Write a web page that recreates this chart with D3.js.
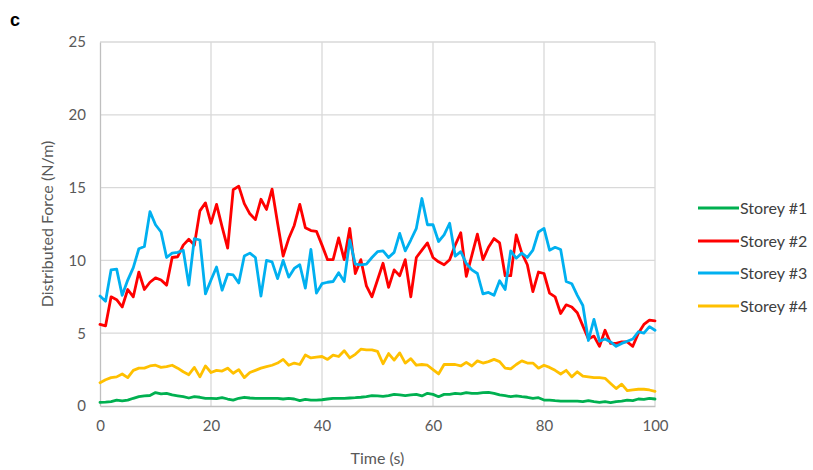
<!DOCTYPE html>
<html>
<head>
<meta charset="utf-8">
<script src="https://cdn.jsdelivr.net/npm/d3@7"></script>
<style>
  html, body { margin: 0; padding: 0; background: #fff; }
  svg { display: block; }
  text { font-family: Lato, "Open Sans", "Liberation Sans", sans-serif; }
</style>
</head>
<body>
<svg id="chart" width="813" height="470"></svg>
<script>
// ---- data ----
const time = d3.range(0, 101); // seconds
const xTicks = [0, 20, 40, 60, 80, 100];
const yTicks = [0, 5, 10, 15, 20, 25];
const seriesNames = ["Storey #1", "Storey #2", "Storey #3", "Storey #4"];
const seriesColors = ["#00b050", "#ff0000", "#00b0f0", "#ffc000"];

const storey1 = [0.25,0.27,0.3,0.4,0.35,0.4,0.53,0.64,0.7,0.72,
  0.92,0.83,0.87,0.76,0.7,0.64,0.55,0.64,0.6,0.53,
  0.53,0.5,0.57,0.48,0.4,0.53,0.6,0.55,0.53,0.53,
  0.53,0.53,0.53,0.48,0.53,0.48,0.37,0.46,0.41,0.41,
  0.43,0.48,0.53,0.53,0.53,0.55,0.57,0.6,0.64,0.71,
  0.7,0.66,0.71,0.8,0.76,0.71,0.76,0.8,0.69,0.87,
  0.8,0.64,0.8,0.8,0.87,0.83,0.92,0.87,0.87,0.92,
  0.94,0.87,0.76,0.71,0.64,0.69,0.64,0.6,0.53,0.57,
  0.41,0.41,0.37,0.34,0.34,0.34,0.34,0.3,0.37,0.3,
  0.25,0.3,0.23,0.3,0.34,0.41,0.37,0.48,0.46,0.53,
  0.48];

const storey2 = [5.6,5.5,7.5,7.3,6.8,8.0,7.5,9.2,8.0,8.5,
  8.8,8.65,8.3,10.2,10.25,11.05,11.45,11.05,13.4,13.95,
  12.55,13.85,12.3,10.85,14.85,15.1,13.9,13.2,12.8,14.2,
  13.5,14.9,12.55,10.3,11.5,12.4,13.85,12.25,12.05,12.0,
  11.05,10.05,10.05,11.55,10.05,12.2,9.1,10.05,8.25,7.5,
  8.65,9.8,8.15,9.35,8.95,10.05,7.5,10.2,10.7,11.2,
  10.2,9.9,9.7,10.05,11.05,11.9,8.9,10.35,11.8,10.05,
  10.9,11.5,11.2,8.95,8.95,11.75,10.5,9.7,7.85,9.2,
  9.1,7.75,7.5,6.35,6.95,6.8,6.4,5.5,4.6,4.8,
  4.1,5.2,4.3,4.3,4.4,4.4,4.1,5.0,5.6,5.9,
  5.85];

const storey3 = [7.55,7.2,9.35,9.4,7.6,8.65,9.5,10.8,10.95,13.35,
  12.45,11.95,10.2,10.5,10.55,10.7,8.3,11.5,11.4,7.7,
  8.65,9.55,7.95,9.05,9.0,8.45,10.3,10.5,10.2,7.55,
  10.0,9.9,8.75,10.0,8.85,9.45,9.7,8.1,10.75,7.75,
  8.4,8.5,8.55,9.15,8.55,11.4,9.75,9.7,9.75,10.2,
  10.6,10.65,10.2,10.55,11.85,10.65,11.4,12.2,14.25,12.45,
  12.45,11.3,11.75,12.55,10.3,10.6,9.8,9.35,9.1,7.7,
  7.8,7.6,8.6,8.0,10.65,10.15,10.5,10.2,10.7,11.95,
  12.2,10.7,10.9,10.75,8.55,8.4,7.6,6.9,4.5,5.95,
  4.45,4.6,4.4,4.1,4.3,4.45,4.6,5.1,5.0,5.45,
  5.2];

const storey4 = [1.6,1.8,1.95,2.0,2.2,1.95,2.45,2.6,2.6,2.75,
  2.8,2.65,2.7,2.8,2.6,2.35,2.15,2.65,2.0,2.75,
  2.3,2.45,2.4,2.6,2.25,2.5,1.95,2.3,2.45,2.6,
  2.7,2.8,2.95,3.2,2.8,2.95,2.85,3.5,3.3,3.35,
  3.4,3.2,3.5,3.4,3.8,3.3,3.55,3.9,3.85,3.85,
  3.75,2.9,3.6,3.15,3.65,2.95,3.25,2.8,2.85,2.8,
  2.5,2.2,2.85,2.85,2.85,2.75,3.0,2.75,3.1,2.95,
  3.05,3.2,3.05,2.6,2.55,2.85,3.1,2.95,2.95,2.6,
  2.8,2.65,2.45,2.2,2.45,2.0,2.35,2.05,2.0,1.95,
  1.95,1.9,1.55,1.2,1.5,1.05,1.1,1.15,1.15,1.1,
  1.0];

const seriesValues = [storey1, storey2, storey3, storey4];

// ---- layout ----
const svg = d3.select("#chart");
const m = { left: 100, right: 655, top: 42, bottom: 406 };

const x = d3.scaleLinear().domain([0, 100]).range([m.left, m.right]);
const y = d3.scaleLinear().domain([0, 25]).range([m.bottom, m.top]);

// gridlines
svg.append("g")
  .selectAll("line")
  .data(yTicks.filter(d => d > 0))
  .join("line")
  .attr("x1", m.left).attr("x2", m.right)
  .attr("y1", d => y(d)).attr("y2", d => y(d))
  .attr("stroke", "#d9d9d9").attr("stroke-width", 1.3);

svg.append("g")
  .selectAll("line")
  .data(xTicks.filter(d => d > 0))
  .join("line")
  .attr("x1", d => x(d)).attr("x2", d => x(d))
  .attr("y1", m.top).attr("y2", m.bottom)
  .attr("stroke", "#d9d9d9").attr("stroke-width", 1.3);

// axes
const xAxis = d3.axisBottom(x).tickValues(xTicks).tickSize(0).tickPadding(14);
const gx = svg.append("g").attr("transform", `translate(0,${m.bottom})`).call(xAxis);
gx.select(".domain").attr("stroke", "#bfbfbf").attr("stroke-width", 1.3);
gx.selectAll("text").attr("fill", "#595959").style("font-size", "15px")
  .style("font-family", "Lato, 'Open Sans', sans-serif");

const yAxis = d3.axisLeft(y).tickValues(yTicks).tickSize(0).tickPadding(14);
const gy = svg.append("g").attr("transform", `translate(${m.left},0)`).call(yAxis);
gy.select(".domain").attr("stroke", "#bfbfbf").attr("stroke-width", 1.3);
gy.selectAll("text").attr("fill", "#595959").style("font-size", "15px")
  .style("font-family", "Lato, 'Open Sans', sans-serif");

// axis titles
svg.append("text")
  .attr("x", (m.left + m.right) / 2).attr("y", 464)
  .attr("text-anchor", "middle")
  .attr("fill", "#595959").style("font-size", "16px")
  .text("Time (s)");

svg.append("text")
  .attr("transform", `translate(53,${(m.top + m.bottom) / 2}) rotate(-90)`)
  .attr("text-anchor", "middle")
  .attr("fill", "#595959").style("font-size", "16px")
  .text("Distributed Force (N/m)");

// panel label
svg.append("text")
  .attr("x", 10).attr("y", 26)
  .attr("fill", "#000").style("font-size", "18px").style("font-weight", "bold")
  .style("font-family", "'Liberation Sans', Arial, sans-serif")
  .text("c");

// series lines
const line = d3.line().x((d, i) => x(time[i])).y(d => y(d));
svg.append("g")
  .selectAll("path")
  .data(seriesValues)
  .join("path")
  .attr("d", d => line(d))
  .attr("fill", "none")
  .attr("stroke", (d, i) => seriesColors[i])
  .attr("stroke-width", 2.8)
  .attr("stroke-linejoin", "round")
  .attr("stroke-linecap", "round");

// legend
const legendY = [208, 241, 273, 306];
const lg = svg.append("g");
seriesNames.forEach((name, i) => {
  lg.append("line")
    .attr("x1", 698).attr("x2", 739)
    .attr("y1", legendY[i]).attr("y2", legendY[i])
    .attr("stroke", seriesColors[i]).attr("stroke-width", 2.8);
  lg.append("text")
    .attr("x", 740).attr("y", legendY[i]).attr("dy", "0.35em")
    .attr("fill", "#404040").style("font-size", "16px")
    .text(name);
});
</script>
</body>
</html>
